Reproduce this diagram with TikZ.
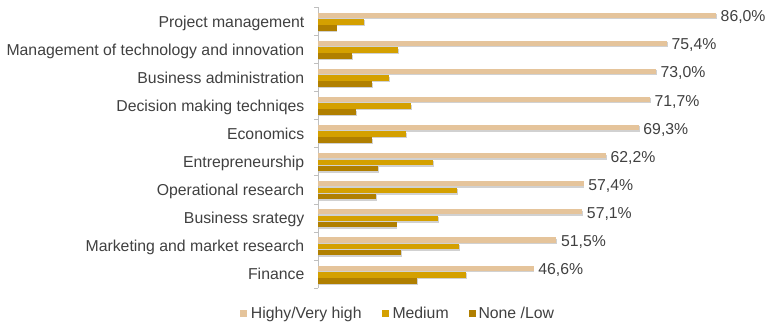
\documentclass[tikz,border=0pt]{standalone}
\usepackage{fontspec}
\setmainfont{Liberation Sans}
\usepackage{tikz}
\usetikzlibrary{positioning}

\definecolor{barhigh}{HTML}{E5C49B}
\definecolor{barmed}{HTML}{D4A000}
\definecolor{barlow}{HTML}{B07F00}
\definecolor{txtgray}{HTML}{404040}
\definecolor{axisgray}{HTML}{BFBFBF}

\tikzset{
  bar/.style={preaction={fill=black!18, transform canvas={shift={(0.8pt,-1.4pt)}}}},
  hbar/.style={bar, fill=barhigh},
  mbar/.style={bar, fill=barmed},
  lbar/.style={bar, fill=barlow},
  val/.style={anchor=base west, inner sep=0pt, xshift=4.5pt, yshift=-4.05pt, text=txtgray},
  cat/.style={anchor=base east, inner sep=0pt, text=txtgray},
  leg/.style={anchor=base west, inner sep=0pt, text=txtgray},
}

\begin{document}
\begin{tikzpicture}[x=1pt, y=-1pt, font=\fontsize{15.8}{18}\selectfont]
    \useasboundingbox (0,0) rectangle (765,322);

    % axis
    \draw[axisgray] (318,7) -- (318,288);

    % ticks
    \draw[axisgray] (314,7) -- (318,7);
    \draw[axisgray] (314,35.1) -- (318,35.1);
    \draw[axisgray] (314,63.2) -- (318,63.2);
    \draw[axisgray] (314,91.3) -- (318,91.3);
    \draw[axisgray] (314,119.4) -- (318,119.4);
    \draw[axisgray] (314,147.5) -- (318,147.5);
    \draw[axisgray] (314,175.6) -- (318,175.6);
    \draw[axisgray] (314,203.7) -- (318,203.7);
    \draw[axisgray] (314,231.8) -- (318,231.8);
    \draw[axisgray] (314,259.9) -- (318,259.9);
    \draw[axisgray] (314,288) -- (318,288);

    % categories
    \node[cat] (pm)  at (304.5,27.05)  {Project management};
    \node[cat] (mti) at (304.5,55.15)  {Management of technology and innovation};
    \node[cat] (ba)  at (304.5,83.25)  {Business administration};
    \node[cat] (dmt) at (304.5,111.35) {Decision making techniqes};
    \node[cat] (eco) at (304.5,139.45) {Economics};
    \node[cat] (ent) at (304.5,167.55) {Entrepreneurship};
    \node[cat] (opr) at (304.5,195.65) {Operational research};
    \node[cat] (bs)  at (304.5,223.75) {Business srategy};
    \node[cat] (mmr) at (304.5,251.85) {Marketing and market research};
    \node[cat] (fin) at (304.5,279.95) {Finance};

    % bars, x in percent
    \begin{scope}[shift={(318,0)}, x=4.628pt]
    \fill[hbar] (0,12.6) rectangle (86.0,17.7) node[val] (vpm) {86,0\%};
    \fill[mbar] (0,19.0) rectangle (10.0,24.6);
    \fill[lbar] (0,25.0) rectangle (4.0,30.6);

    \fill[hbar] (0,40.7) rectangle (75.4,45.8) node[val] (vmti) {75,4\%};
    \fill[mbar] (0,47.1) rectangle (17.3,52.7);
    \fill[lbar] (0,53.1) rectangle (7.3,58.7);

    \fill[hbar] (0,68.8) rectangle (73.0,73.9) node[val] (vba) {73,0\%};
    \fill[mbar] (0,75.2) rectangle (15.3,80.8);
    \fill[lbar] (0,81.2) rectangle (11.7,86.8);

    \fill[hbar] (0,96.9) rectangle (71.7,102.0) node[val] (vdmt) {71,7\%};
    \fill[mbar] (0,103.3) rectangle (20.1,108.9);
    \fill[lbar] (0,109.3) rectangle (8.2,114.9);

    \fill[hbar] (0,125.0) rectangle (69.3,130.1) node[val] (veco) {69,3\%};
    \fill[mbar] (0,131.4) rectangle (19.0,137.0);
    \fill[lbar] (0,137.4) rectangle (11.7,143.0);

    \fill[hbar] (0,153.1) rectangle (62.2,158.2) node[val] (vent) {62,2\%};
    \fill[mbar] (0,159.5) rectangle (24.8,165.1);
    \fill[lbar] (0,165.5) rectangle (13.0,171.1);

    \fill[hbar] (0,181.2) rectangle (57.4,186.3) node[val] (vopr) {57,4\%};
    \fill[mbar] (0,187.6) rectangle (30.0,193.2);
    \fill[lbar] (0,193.6) rectangle (12.6,199.2);

    \fill[hbar] (0,209.3) rectangle (57.1,214.4) node[val] (vbs) {57,1\%};
    \fill[mbar] (0,215.7) rectangle (25.9,221.3);
    \fill[lbar] (0,221.7) rectangle (17.0,227.3);

    \fill[hbar] (0,237.4) rectangle (51.5,242.5) node[val] (vmmr) {51,5\%};
    \fill[mbar] (0,243.8) rectangle (30.5,249.4);
    \fill[lbar] (0,249.8) rectangle (18.0,255.4);

    \fill[hbar] (0,265.5) rectangle (46.6,270.6) node[val] (vfin) {46,6\%};
    \fill[mbar] (0,271.9) rectangle (32.0,277.5);
    \fill[lbar] (0,277.9) rectangle (21.4,283.5);
    \end{scope}

    % legend
    \fill[barhigh] (240,310) rectangle (247.3,317.3);
    \node[leg] (lhigh) at (250.7,318.5) {Highy/Very high};
    \fill[barmed] (381.7,310) rectangle (389,317.3);
    \node[leg] (lmed) at (392.3,318.5) {Medium};
    \fill[barlow] (468.5,310) rectangle (475.8,317.3);
    \node[leg] (llow) at (478.3,318.5) {None /Low};
\end{tikzpicture}
\end{document}
